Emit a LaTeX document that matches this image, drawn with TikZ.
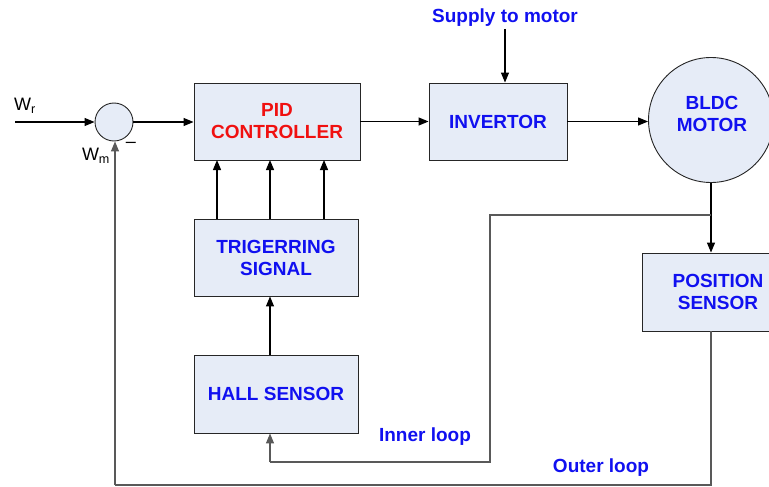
\documentclass[tikz,border=0pt]{standalone}
\usepackage{fontspec}
\setmainfont{Liberation Sans}
\usetikzlibrary{arrows.meta}
\definecolor{boxfill}{HTML}{E6ECF7}
\definecolor{lblue}{HTML}{1010F0}
\definecolor{lred}{HTML}{F01010}
\begin{document}
\begin{tikzpicture}[x=1pt,y=-1pt,
  blk/.style={draw=black!85,fill=boxfill,line width=0.9pt,minimum width=#1,inner sep=0pt,align=center,font=\fontsize{19}{22}\selectfont\bfseries,text=lblue},
  blk/.default=164pt,
  conn/.style={line width=1.2pt,-{Triangle[length=10pt,width=8pt]}},
  loopline/.style={line width=1.2pt,draw=black!65},
  lbl/.style={font=\fontsize{19}{22}\selectfont\bfseries,text=lblue,inner sep=0pt}]
\useasboundingbox (0,0) rectangle (769,487);
\begin{scope}
\clip (0,0) rectangle (769,487);
% blocks
\node[blk=166pt,minimum height=77pt,text=lred] (pid) at (277,121.5) {PID\\CONTROLLER};
\node[blk=138pt,minimum height=77pt] (inv) at (498,121.5) {INVERTOR};
\node[blk=164pt,minimum height=77pt] (trig) at (276,257.5) {TRIGERRING\\SIGNAL};
\node[blk=164pt,minimum height=78pt] (hall) at (276,394) {HALL SENSOR};
\node[blk=134pt,minimum height=78pt,text width=120pt] (pos) at (709,292) {\hspace*{18pt}POSITION\\\hspace*{18pt}SENSOR};
\node[draw=black!85,fill=boxfill,circle,line width=0.9pt,minimum size=125pt,inner sep=0pt] (motor) at (711,120) {};
\node[lbl,align=center] (mtext) at (712,114) {BLDC\\MOTOR};
\node[draw=black!85,fill=boxfill,circle,line width=0.9pt,minimum size=38pt,inner sep=0pt] (sum) at (114,122) {};
% labels
\node[lbl] (supply) at (505,18) {Supply to motor};
\node[lbl] (inner) at (425,437) {Inner loop};
\node[lbl] (outer) at (601,468) {Outer loop};
\node[font=\fontsize{18}{21}\selectfont,inner sep=0pt] (wr) at (25,106) {W\textsubscript{r}};
\node[font=\fontsize{18}{21}\selectfont,inner sep=0pt] (wm) at (96,156) {W\textsubscript{m}};
\node[inner sep=0pt,font=\fontsize{18}{21}\selectfont] (minus) at (131,145) {--};
% coordinates
\coordinate (win) at (15,122);
\coordinate (sup) at (505,29);
\coordinate (junc) at (711,215);
\coordinate (ib1) at (490,215);
\coordinate (ib2) at (490,462);
\coordinate (ib3) at (270,462);
\coordinate (ob1) at (711,485);
\coordinate (ob2) at (115,485);
% connectors
\draw[conn] (win) -- (sum.west);
\draw[conn] (sum.east) -- (sum.east -| pid.west);
\draw[conn] (pid.east |- inv.west) -- (inv.west);
\draw[conn] (inv.east) -- (inv.east -| motor.west);
\draw[conn] (sup) -- (inv.north -| sup);
\draw[conn] (motor.south) -- (pos.north -| motor.south);
\foreach \xx in {217,270,324}{
  \draw[conn] (\xx,219) -- (\xx,160);
}
\draw[conn] (hall.north) ++(-6,0) coordinate (hn) -- (hn |- trig.south);
\draw[loopline] (junc) -- (ib1) -- (ib2) -- (ib3);
\draw[conn,draw=black!65] (ib3) -- (ib3 |- hall.south);
\draw[loopline] (pos.south -| ob1) -- (ob1) -- (ob2);
\draw[conn,draw=black!65] (ob2) -- (sum.south -| ob2);
\end{scope}
\end{tikzpicture}
\end{document}
